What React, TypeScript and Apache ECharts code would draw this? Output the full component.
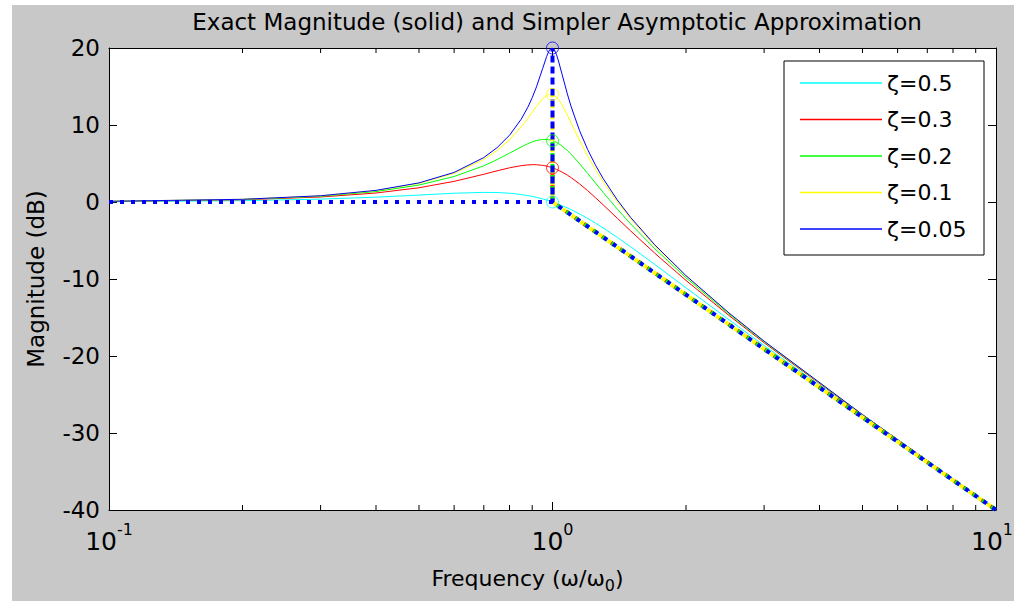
import React, { useEffect, useRef } from "react";
import * as echarts from "echarts";

const freq = [0.1, 0.2, 0.3, 0.4, 0.5, 0.6, 0.7, 0.75, 0.8, 0.85, 0.88, 0.9, 0.92, 0.95, 0.97, 0.98, 0.99, 1, 1.01, 1.02, 1.03, 1.05, 1.08, 1.1, 1.15, 1.2, 1.25, 1.3, 1.4, 1.5, 1.7, 2, 2.5, 3, 5, 10];

const zeta05 = [0.04, 0.17, 0.37, 0.63, 0.9, 1.14, 1.25, 1.23, 1.14, 0.97, 0.83, 0.73, 0.61, 0.4, 0.25, 0.17, 0.09, 0, -0.09, -0.18, -0.27, -0.47, -0.77, -0.98, -1.54, -2.13, -2.74, -3.36, -4.6, -5.81, -8.1, -11.14, -15.29, -18.63, -27.79, -39.96];
const zeta03 = [0.07, 0.29, 0.65, 1.17, 1.85, 2.68, 3.6, 4.05, 4.44, 4.72, 4.82, 4.85, 4.84, 4.76, 4.66, 4.59, 4.52, 4.44, 4.35, 4.25, 4.14, 3.9, 3.49, 3.19, 2.37, 1.48, 0.56, -0.35, -2.11, -3.75, -6.64, -10.19, -14.74, -18.28, -27.67, -39.93];
const zeta02 = [0.08, 0.33, 0.74, 1.36, 2.2, 3.31, 4.7, 5.51, 6.35, 7.15, 7.58, 7.81, 7.99, 8.13, 8.12, 8.09, 8.04, 7.96, 7.86, 7.75, 7.61, 7.28, 6.69, 6.24, 5.01, 3.73, 2.47, 1.27, -0.92, -2.84, -6.06, -9.84, -14.56, -18.16, -27.63, -39.92];
const zeta01 = [0.09, 0.35, 0.8, 1.48, 2.42, 3.73, 5.53, 6.7, 8.09, 9.75, 10.87, 11.64, 12.41, 13.41, 13.86, 13.98, 14.02, 13.98, 13.85, 13.64, 13.36, 12.63, 11.29, 10.34, 8.04, 6.0, 4.22, 2.65, 0, -2.18, -5.67, -9.62, -14.44, -18.09, -27.61, -39.92];
const zeta005 = [0.09, 0.35, 0.81, 1.51, 2.48, 3.84, 5.77, 7.06, 8.67, 10.75, 12.32, 13.55, 14.94, 17.32, 18.89, 19.52, 19.92, 20.0, 19.75, 19.2, 18.44, 16.67, 14.05, 12.5, 9.31, 6.82, 4.79, 3.07, 0.26, -2.0, -5.56, -9.56, -14.41, -18.07, -27.61, -39.91];

const seriesNames = ["ζ=0.5", "ζ=0.3", "ζ=0.2", "ζ=0.1", "ζ=0.05"];
const seriesColors = ["#00ffff", "#ff0000", "#00ff00", "#ffff00", "#0000ff"];
const seriesValues = [zeta05, zeta03, zeta02, zeta01, zeta005];

// Asymptotic approximation: flat, vertical to resonance peak, back down, -40 dB/decade
const asymFreq = [0.1, 1, 1, 1, 10];
const peakValues = [0, 4.44, 7.96, 13.98, 20];
const asymLow = 0;
const asymHigh = -40;

const yTicks = [-40, -30, -20, -10, 0, 10, 20];

const FONT = "DejaVu Sans";

export default function App() {
  const ref = useRef<HTMLDivElement>(null);

  useEffect(() => {
    if (!ref.current) return;
    const chart = echarts.init(ref.current, undefined, { renderer: "svg" });

    const curveSeries = seriesNames.map((name, i) => ({
      name,
      type: "line",
      data: freq.map((f, j) => [f, seriesValues[i][j]]),
      showSymbol: false,
      symbol: "none",
      lineStyle: { color: seriesColors[i], width: 1 },
      itemStyle: { color: seriesColors[i] },
      z: 2,
    }));

    const asymSeries = seriesNames.map((name, i) => ({
      name: "asym " + name,
      type: "line",
      data: asymFreq.map((f, j) => [f, [asymLow, asymLow, peakValues[i], asymLow, asymHigh][j]]),
      showSymbol: false,
      symbol: "none",
      lineStyle: { color: seriesColors[i], width: 4, type: [4, 7], cap: "butt" },
      z: 3,
    }));

    const peakSeries = {
      name: "peaks",
      type: "scatter",
      symbol: "circle",
      symbolSize: 12,
      data: peakValues.map((v, i) => ({
        value: [1, v],
        itemStyle: { color: "rgba(0,0,0,0)", borderColor: seriesColors[i], borderWidth: 1 },
      })),
      z: 4,
    };

    const ymin = yTicks[0];
    const ymax = yTicks[yTicks.length - 1];

    const option: any = {
      animation: false,
      backgroundColor: "transparent",
      textStyle: { fontFamily: FONT },
      title: {
        text: "Exact Magnitude (solid) and Simpler Asymptotic Approximation",
        left: 552,
        textAlign: "center",
        top: 5,
        textStyle: { fontFamily: FONT, fontSize: 23, fontWeight: "normal", color: "#000" },
      },
      grid: {
        left: 109,
        right: 18,
        top: 48,
        bottom: 91,
        show: true,
        backgroundColor: "#ffffff",
        borderWidth: 0,
        containLabel: false,
        outerBoundsMode: "none",
      },
      legend: {
        data: seriesNames,
        orient: "vertical",
        left: 800,
        top: 72,
        padding: 0,
        icon: "rect",
        itemWidth: 82,
        itemHeight: 1.6,
        itemGap: 14.5,
        textStyle: { fontFamily: FONT, fontSize: 22, color: "#000", lineHeight: 22 },
        z: 6,
      },
      xAxis: [
        {
          type: "log",
          logBase: 10,
          min: 0.1,
          max: 10,
          position: "bottom",
          axisLine: { show: true, onZero: false, lineStyle: { color: "#000", width: 1 } },
          axisTick: { show: true, inside: true, length: 8, lineStyle: { color: "#000" } },
          splitLine: { show: false },
          axisLabel: {
            margin: 11,
            color: "#000",
            formatter: (v: number) => {
              const e = Math.round(Math.log10(v));
              return e > 0 ? `{b|10}{se|${e}}` : `{b|10}{s|${e}}`;
            },
            rich: {
              b: { fontFamily: FONT, fontSize: 25, lineHeight: 40, color: "#000" },
              s: { fontFamily: FONT, fontSize: 16, lineHeight: 16, verticalAlign: "top", color: "#000" },
              se: { fontFamily: FONT, fontSize: 16, lineHeight: 16, verticalAlign: "top", color: "#000", padding: [0, 8, 0, 0] },
            },
          },
          name: "Frequency (ω/ω{sub|0})",
          nameLocation: "middle",
          nameGap: 53,
          nameTextStyle: {
            fontFamily: FONT,
            fontSize: 22,
            color: "#000",
            padding: [0, 50, 0, 0],
            rich: {
              sub: { fontFamily: FONT, fontSize: 16, padding: [14, 0, 0, 0], color: "#000" },
            },
          },
        },
        {
          type: "log",
          logBase: 10,
          min: 0.1,
          max: 10,
          position: "top",
          axisLine: { show: true, onZero: false, lineStyle: { color: "#000", width: 1 } },
          axisTick: { show: true, inside: true, length: 8, lineStyle: { color: "#000" } },
          axisLabel: { show: false },
          splitLine: { show: false },
        },
      ],
      yAxis: [
        {
          type: "value",
          min: ymin,
          max: ymax,
          interval: 10,
          position: "left",
          axisLine: { show: true, onZero: false, lineStyle: { color: "#000", width: 1 } },
          axisTick: { show: true, inside: true, length: 8, lineStyle: { color: "#000" } },
          splitLine: { show: false },
          axisLabel: { margin: 9, color: "#000", fontFamily: FONT, fontSize: 23 },
          name: "Magnitude (dB)",
          nameLocation: "middle",
          nameGap: 62,
          nameTextStyle: { fontFamily: FONT, fontSize: 23, color: "#000" },
        },
        {
          type: "value",
          min: ymin,
          max: ymax,
          interval: 10,
          position: "right",
          axisLine: { show: true, onZero: false, lineStyle: { color: "#000", width: 1 } },
          axisTick: { show: true, inside: true, length: 8, lineStyle: { color: "#000" } },
          axisLabel: { show: false },
          splitLine: { show: false },
        },
      ],
      series: [...curveSeries, ...asymSeries, peakSeries],
    };

    chart.setOption(option);

    // Minor log ticks (2..9 in each decade) on the top and bottom edges, positioned by the axis scale
    const yBottom = chart.convertToPixel({ yAxisIndex: 0 }, ymin) as number;
    const yTop = chart.convertToPixel({ yAxisIndex: 0 }, ymax) as number;
    const minorEls: any[] = [];
    [0.1, 1].forEach((d) => {
      for (let m = 2; m <= 9; m++) {
        const x = chart.convertToPixel({ xAxisIndex: 0 }, m * d) as number;
        minorEls.push({ type: "line", shape: { x1: x, y1: yBottom, x2: x, y2: yBottom - 5 }, style: { stroke: "#000", lineWidth: 1 }, z: 5 });
        minorEls.push({ type: "line", shape: { x1: x, y1: yTop, x2: x, y2: yTop + 5 }, style: { stroke: "#000", lineWidth: 1 }, z: 5 });
      }
    });

    chart.setOption({
      graphic: [
        ...minorEls,
        {
          type: "rect",
          shape: { x: 784, y: 61, width: 200, height: 194 },
          style: { fill: "#ffffff", stroke: "#000", lineWidth: 1 },
          z: 5,
        },
      ],
    });

    return () => chart.dispose();
  }, []);

  return (
    <div style={{ position: "absolute", left: 0, top: 0, width: 1014, height: 601, background: "#ffffff" }}>
      <div style={{ position: "absolute", left: 12, top: 5, width: 1002, height: 596, background: "#c8c8c8" }} />
      <div ref={ref} style={{ position: "absolute", left: 0, top: 0, width: 1014, height: 601 }} />
    </div>
  );
}
